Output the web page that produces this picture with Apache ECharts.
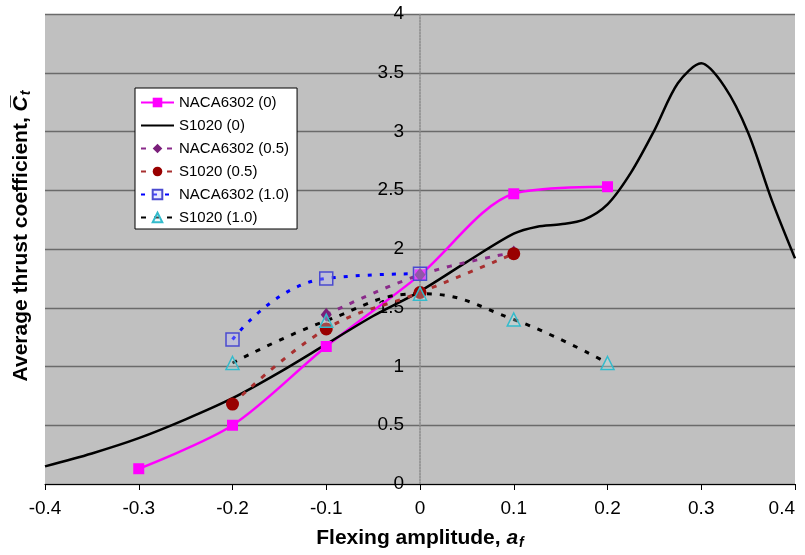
<!DOCTYPE html>
<html>
<head>
<meta charset="utf-8">
<script src="https://cdn.jsdelivr.net/npm/echarts@6/dist/echarts.min.js"></script>
<style>
html,body{margin:0;padding:0;background:#fff;}
#c{width:805px;height:555px;}
</style>
</head>
<body>
<div id="c"></div>
<script>
// ---- data ----
var xTicks = [-0.4, -0.3, -0.2, -0.1, 0, 0.1, 0.2, 0.3, 0.4];
var yTicks = [0, 0.5, 1, 1.5, 2, 2.5, 3, 3.5, 4];

var naca0X = [-0.3, -0.2, -0.1, 0, 0.1, 0.2];
var naca0Y = [0.13, 0.50, 1.17, 1.78, 2.47, 2.53];

var s0X = [-0.4, -0.35, -0.3, -0.25, -0.2, -0.15, -0.1, -0.05, 0, 0.05, 0.1, 0.125, 0.15, 0.175, 0.2, 0.225, 0.25, 0.275, 0.3, 0.325, 0.35, 0.375, 0.4];
var s0Y = [0.15, 0.26, 0.39, 0.55, 0.73, 0.95, 1.19, 1.43, 1.64, 1.89, 2.13, 2.19, 2.21, 2.25, 2.38, 2.65, 3.01, 3.41, 3.58, 3.38, 2.99, 2.42, 1.92];

var naca05X = [-0.1, 0, 0.1];
var naca05Y = [1.44, 1.78, 1.97];

var s05X = [-0.2, -0.1, 0, 0.1];
var s05Y = [0.68, 1.32, 1.63, 1.96];

var naca10X = [-0.2, -0.1, 0];
var naca10Y = [1.23, 1.75, 1.79];

var s10X = [-0.2, -0.1, 0, 0.1, 0.2];
var s10Y = [1.03, 1.39, 1.62, 1.40, 1.03];

var names = ['NACA6302 (0)', 'S1020 (0)', 'NACA6302 (0.5)', 'S1020 (0.5)', 'NACA6302 (1.0)', 'S1020 (1.0)'];

function pairs(xs, ys) { return xs.map(function (x, i) { return [x, ys[i]]; }); }

var FONT = "'Liberation Sans', Arial, sans-serif";
var chart = echarts.init(document.getElementById('c'), null, {renderer: 'canvas'});

var GRID_L = 45, GRID_R = 10, W = 805;
var zeroOffset = -((W - GRID_L - GRID_R) / 2);

chart.setOption({
  animation: false,
  backgroundColor: '#ffffff',
  textStyle: {fontFamily: FONT},
  grid: {left: GRID_L, right: GRID_R, top: 14, bottom: 71, show: true, backgroundColor: '#c0c0c0', borderWidth: 0,
    containLabel: false, outerBoundsMode: 'none'},
  legend: {
    orient: 'vertical', left: 135, top: 88,
    backgroundColor: '#ffffff', borderColor: '#000000', borderWidth: 1,
    padding: [7, 8, 4, 5], itemGap: 8, itemWidth: 33, itemHeight: 12,
    textStyle: {fontFamily: FONT, fontSize: 15, color: '#000'},
    data: [
      names[0],
      {name: names[1], icon: 'path://M0,0 L0.01,0 L0.01,0.01 Z M0,5 L33,5 L33,7 L0,7 Z M0,12 L0.01,12 L0.01,11.99 Z'},
      names[2], names[3], names[4], names[5]
    ]
  },
  xAxis: {
    type: 'value', min: xTicks[0], max: xTicks[xTicks.length - 1], interval: 0.1,
    axisLine: {onZero: false, lineStyle: {color: '#000', width: 1}},
    axisTick: {show: true, length: 6, lineStyle: {color: '#000'}},
    axisLabel: {fontSize: 19, color: '#000', margin: 15, fontFamily: FONT, alignMaxLabel: 'right',
      formatter: function (v) { return String(Math.round(v * 10) / 10); }},
    splitLine: {show: false},
    name: '{b|Flexing amplitude, }{i|a}{s|f}',
    nameLocation: 'middle', nameGap: 42,
    nameTextStyle: {
      rich: {
        b: {fontSize: 21, fontWeight: 'bold', color: '#000', fontFamily: FONT},
        i: {fontSize: 21, fontWeight: 'bold', fontStyle: 'italic', color: '#000', fontFamily: FONT},
        s: {fontSize: 14, fontWeight: 'bold', fontStyle: 'italic', color: '#000', fontFamily: FONT, padding: [10, 0, 0, 1]}
      }
    }
  },
  yAxis: {
    type: 'value', min: yTicks[0], max: yTicks[yTicks.length - 1], interval: 0.5,
    offset: zeroOffset,
    axisLine: {show: true, onZero: false, lineStyle: {color: '#8a8a8a', type: 'dotted', width: 1.5}},
    axisTick: {show: false},
    axisLabel: {fontSize: 19, color: '#000', margin: 16, fontFamily: FONT,
      formatter: function (v) { return String(v); }},
    splitLine: {show: true, lineStyle: {color: '#6a6a6a', width: 1.3}}
  },
  graphic: [{
    type: 'text', rotation: Math.PI / 2,
    x: 21, y: 236,
    style: {
      text: '{b|Average thrust coefficient, }{i|C\u0305}{s|t}',
      rich: {
        b: {fontSize: 21, fontWeight: 'bold', fill: '#000', fontFamily: FONT},
        i: {fontSize: 21, fontWeight: 'bold', fontStyle: 'italic', fill: '#000', fontFamily: FONT},
        s: {fontSize: 14, fontWeight: 'bold', fontStyle: 'italic', fill: '#000', fontFamily: FONT, padding: [10, 0, 0, 1]}
      },
      align: 'center', verticalAlign: 'middle'
    }
  }],
  series: [
    {name: names[0], type: 'line', smooth: 0.3, data: pairs(naca0X, naca0Y),
      symbol: 'rect', symbolSize: 11, color: '#ff00ff',
      lineStyle: {color: '#ff00ff', width: 2.5}, itemStyle: {color: '#ff00ff'}},
    {name: names[1], type: 'line', smooth: 0.3, data: pairs(s0X, s0Y),
      symbol: 'none', color: '#000000',
      lineStyle: {color: '#000000', width: 2.5}, itemStyle: {color: '#000000'}},
    {name: names[2], type: 'line', smooth: 0.4, data: pairs(naca05X, naca05Y),
      symbol: 'diamond', symbolSize: [11, 14], color: '#7a1f7a',
      lineStyle: {color: '#8a2a8a', width: 3, type: [5, 8]}, itemStyle: {color: '#7a1f7a'}},
    {name: names[3], type: 'line', smooth: 0.4, data: pairs(s05X, s05Y),
      symbol: 'circle', symbolSize: 13, color: '#990000',
      lineStyle: {color: '#a83030', width: 3, type: [5, 8]}, itemStyle: {color: '#990000'}},
    {name: names[4], type: 'line', smooth: 0.5, data: pairs(naca10X, naca10Y),
      symbol: 'rect', symbolSize: 13, color: '#0000ff',
      lineStyle: {color: '#0000ff', width: 3, type: [4, 8]},
      itemStyle: {color: 'rgba(190,190,255,0.35)', borderColor: '#4a4ad0', borderWidth: 1.5}},
    {name: names[5], type: 'line', smooth: 0.45, data: pairs(s10X, s10Y),
      symbol: 'triangle', symbolSize: 13, color: '#000000',
      lineStyle: {color: '#000000', width: 3, type: [5, 8]},
      itemStyle: {color: 'rgba(200,240,240,0.3)', borderColor: '#33bbcc', borderWidth: 1.5}}
  ]
});
</script>
</body>
</html>
